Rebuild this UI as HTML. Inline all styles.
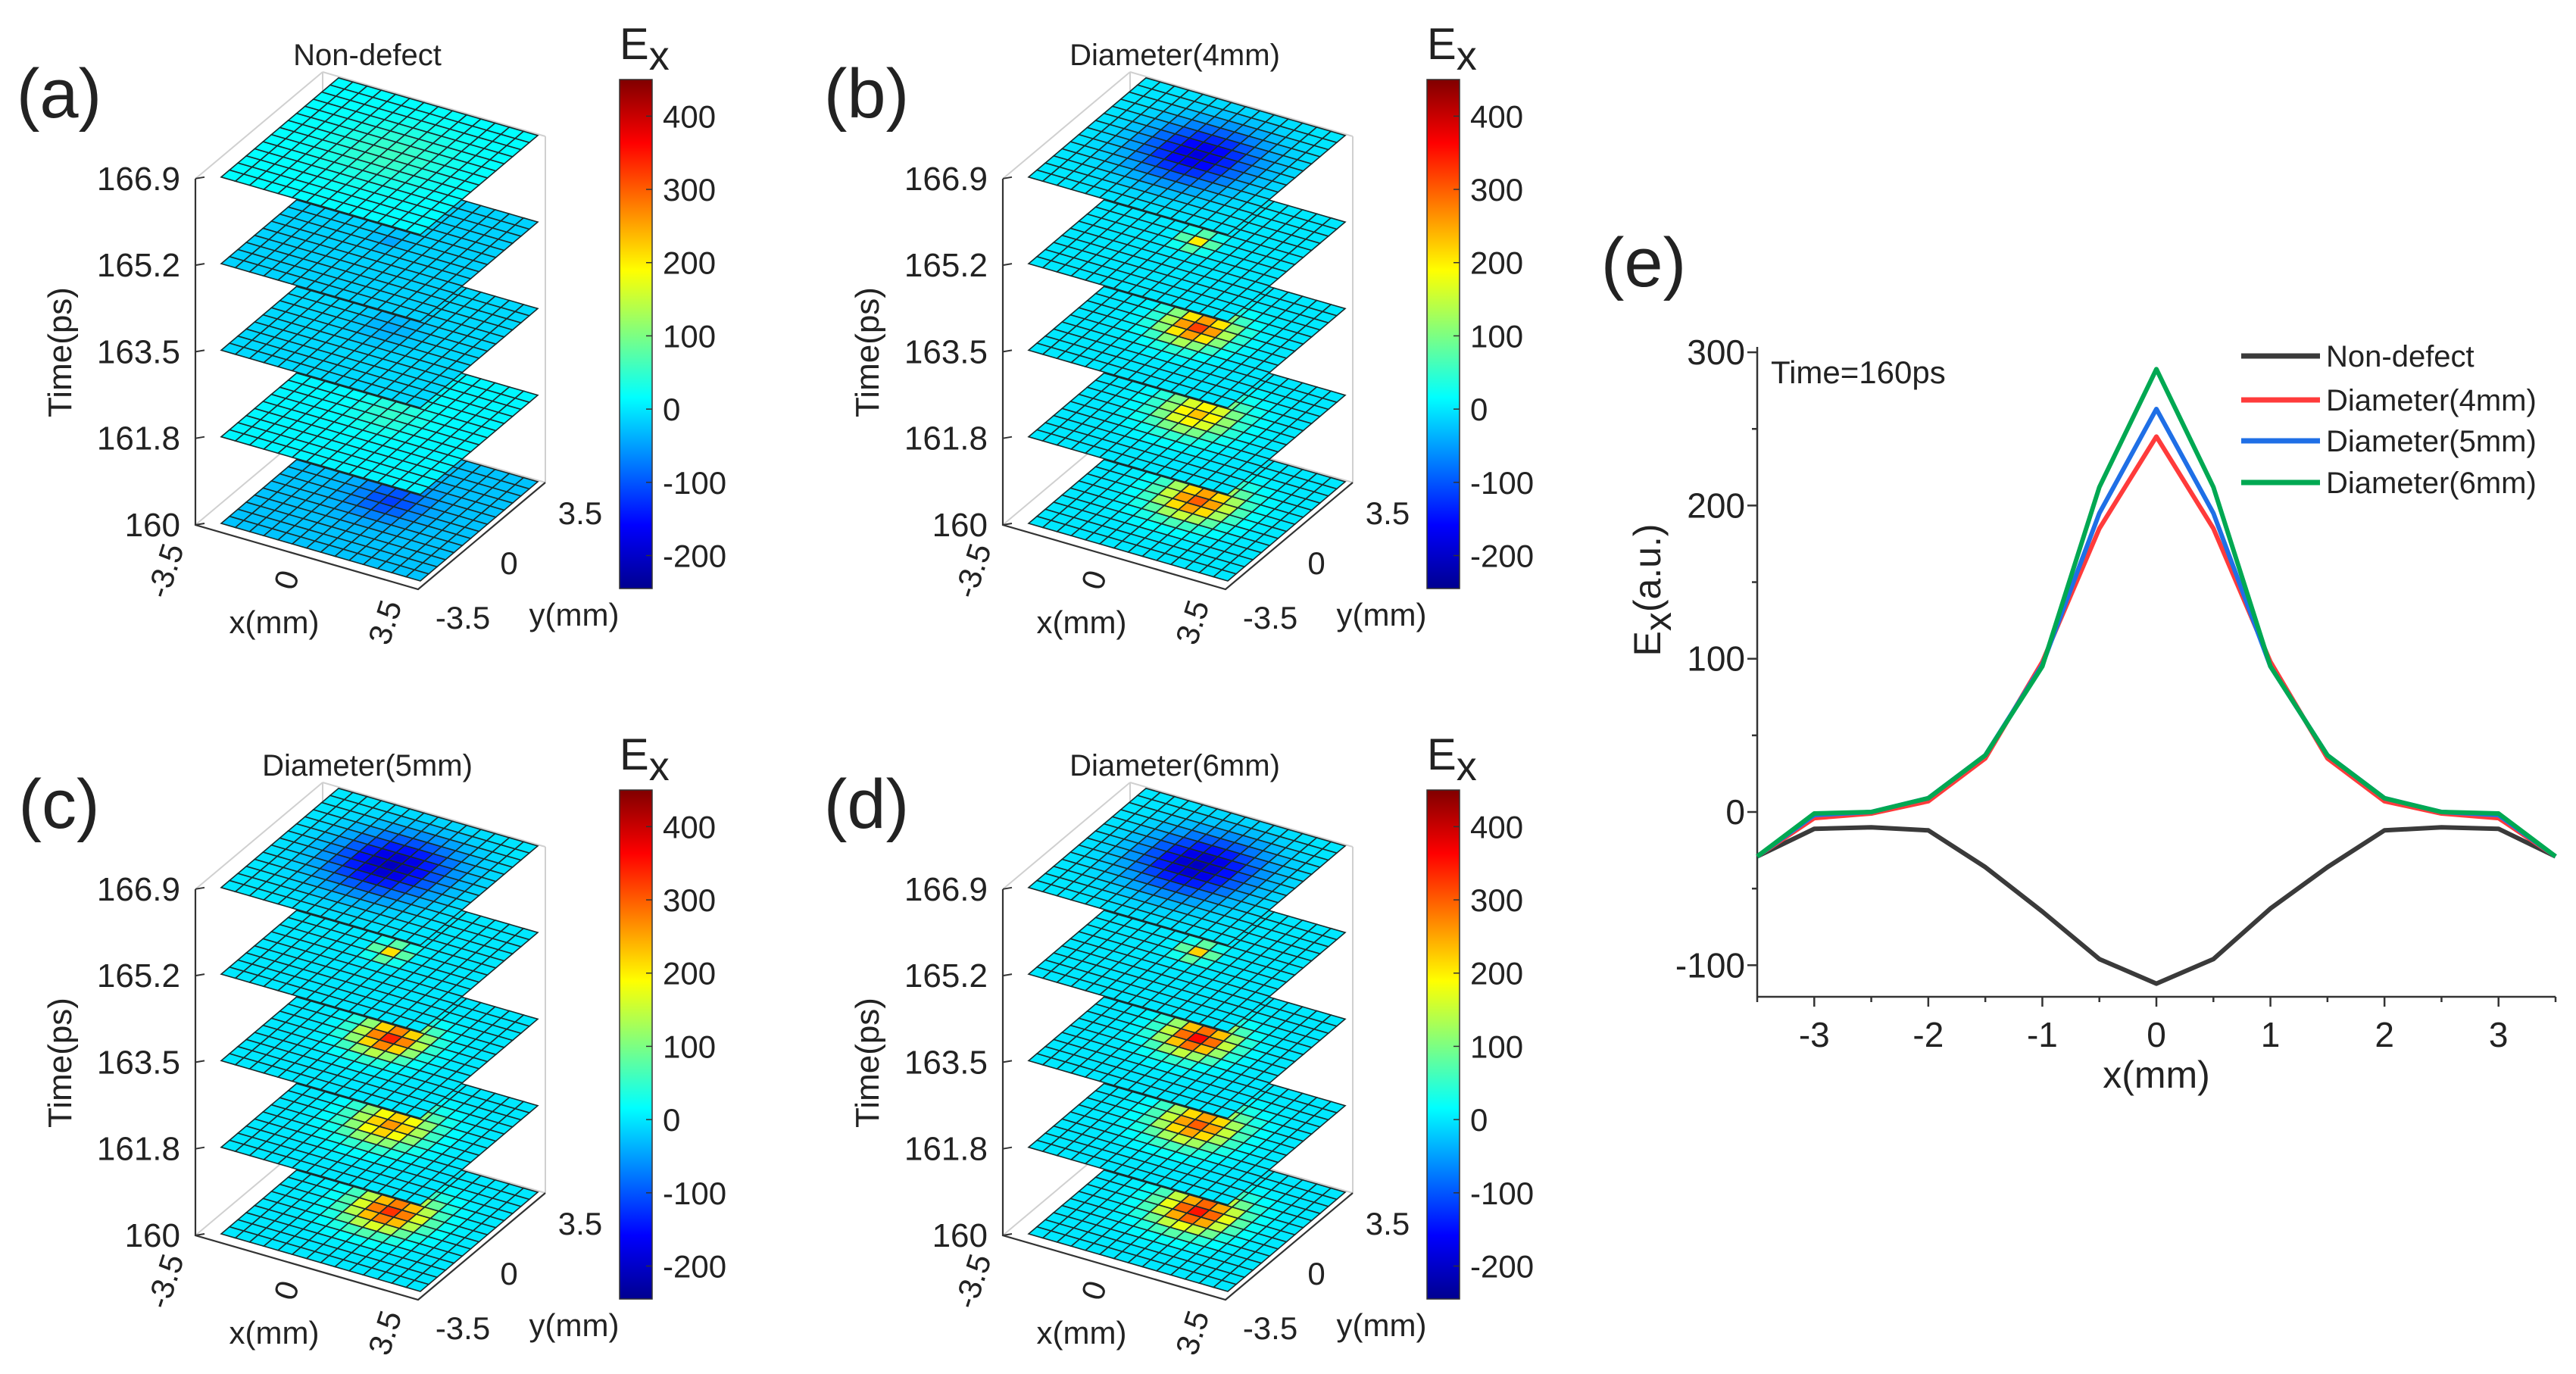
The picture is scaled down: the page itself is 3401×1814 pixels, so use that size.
<!DOCTYPE html>
<html><head><meta charset="utf-8"><style>
html,body{margin:0;padding:0;background:#fff}
svg{display:block}
text{font-family:"Liberation Sans",sans-serif;fill:#222}
</style></head><body>
<svg id="fig" width="3401" height="1814" viewBox="0 0 3401 1814" xmlns="http://www.w3.org/2000/svg">
<defs>
<linearGradient id="jet" x1="0" y1="1" x2="0" y2="0">
<stop offset="0" stop-color="#00008f"/><stop offset="0.125" stop-color="#0000ff"/><stop offset="0.375" stop-color="#00ffff"/><stop offset="0.625" stop-color="#ffff00"/><stop offset="0.875" stop-color="#ff0000"/><stop offset="1" stop-color="#800000"/>
</linearGradient>
</defs>
<g id="panels3d"></g>
<g id="panelE"></g>
</svg>
<script>
// ---- 3D slice panels data ----
const panelLetters = ["(a)","(b)","(c)","(d)"];
const panelTitles = ["Non-defect","Diameter(4mm)","Diameter(5mm)","Diameter(6mm)"];
const timeTicks = ["160","161.8","163.5","165.2","166.9"];
// peak value at slice centre, per slice (bottom 160 → top 166.9)
const peaksA = [-90, 40, -30, -30, 40];
const peaksB = [300, 230, 320, 200, -180];
const peaksC = [330, 260, 340, 210, -200];
const peaksD = [350, 300, 360, 220, -200];
const basesA = [-25, 10, -10, -15, 15];
const sliceWidths = [1.7, 1.7, 1.5, 0.7, 2.6];
const cbTicks = [400, 300, 200, 100, 0, -100, -200];
const cbMin = -245, cbMax = 450;

// ---- panel (e) data ----
const xVals = [-3.5,-3,-2.5,-2,-1.5,-1,-0.5,0,0.5,1,1.5,2,2.5,3,3.5];
const nonDefect = [-29,-11,-10,-12,-36,-65,-96,-112,-96,-63,-36,-12,-10,-11,-29];
const dia4 = [-29,-4,-1,7,35,98,185,245,185,98,35,7,-1,-4,-29];
const dia5 = [-29,-2,0,9,37,96,195,263,195,95,37,9,0,-2,-29];
const dia6 = [-29,-1,0,9,37,95,212,289,212,95,37,9,0,-1,-29];
const seriesNames = ["Non-defect","Diameter(4mm)","Diameter(5mm)","Diameter(6mm)"];
const yTicksE = [-100, 0, 100, 200, 300];
const xTicksE = [-3,-2,-1,0,1,2,3];

const NS = "http://www.w3.org/2000/svg";
function mk(tag, attrs, parent, txt){const e=document.createElementNS(NS,tag);for(const k in attrs)e.setAttribute(k,attrs[k]);if(txt!==undefined)e.textContent=txt;parent.appendChild(e);return e;}
function clamp(v){return Math.max(0,Math.min(1,v));}
function jet(v){const t=clamp((v-cbMin)/(cbMax-cbMin));
 const r=clamp(1.5-Math.abs(4*t-3)),g=clamp(1.5-Math.abs(4*t-2)),b=clamp(1.5-Math.abs(4*t-1));
 return `rgb(${Math.round(r*255)},${Math.round(g*255)},${Math.round(b*255)})`;}

const allPeaks=[peaksA,peaksB,peaksC,peaksD];
const offsets=[[0,0],[1066,0],[0,938],[1066,938]];
const root=document.getElementById('panels3d');
const N=14, ex=[263/N,76/N], ey=[155/N,-131/N], dz=114.3;

allPeaks.forEach((peaks,p)=>{
 const [ox,oy]=offsets[p];
 const g=mk('g',{transform:`translate(${ox},${oy})`},root);
 
 
 const grey={stroke:'#d0d0d0','stroke-width':2,fill:'none'};
 mk('path',Object.assign({d:'M426,552 L426,95 M720,637 L720,180 M426,95 L720,180 M426,95 L258,236 M258,693 L426,552 L720,637'},grey),g);
 const bases = p===0?basesA:[0,0,0,0,0];
 for(let k=0;k<5;k++){
  const sg=mk('g',{},g);
  
  
  const L=[292,691-k*dz];
  const c=7, w=sliceWidths[k];
  for(let i=0;i<N;i++)for(let j=0;j<N;j++){
   const d2=((i-c)*(i-c)+(j-c)*(j-c))/(2*w*w);
   const v=bases[k]+peaks[k]*Math.exp(-d2);
   const P=(a,b)=>[L[0]+a*ex[0]+b*ey[0],L[1]+a*ex[1]+b*ey[1]];
   const q=[P(i,j),P(i+1,j),P(i+1,j+1),P(i,j+1)];
   mk('polygon',{points:q.map(s=>s.join(',')).join(' '),fill:jet(v),stroke:'#1a2a2a','stroke-width':1.6},sg);
  }
 }
 const ax={stroke:'#333','stroke-width':2.2,fill:'none'};
 mk('path',Object.assign({d:'M258,236 L258,693 L552,778 L720,637'},ax),g);
 timeTicks.forEach((t,k)=>{
  const y=693-k*dz;
  mk('line',{x1:258,y1:y,x2:270,y2:y-2,stroke:'#333','stroke-width':2},g);
  const tt=mk('text',{x:238,y:y+15,'text-anchor':'end','font-size':44},g,t);
  
  
 });
 mk('text',{x:0,y:0,'font-size':44,'text-anchor':'middle',transform:'translate(94,465) rotate(-90)'},g,'Time(ps)');
 [['-3.5',232,758],['0',392,770],['3.5',522,826]].forEach(([s,x,y])=>{
  const t=mk('text',{x:0,y:0,'font-size':42,'text-anchor':'middle',transform:`translate(${x},${y}) rotate(-72)`},g,s);
  
 });
 mk('text',{x:362,y:836,'font-size':42,'text-anchor':'middle'},g,'x(mm)');
 [['3.5',766,692],['0',672,758],['-3.5',611,830]].forEach(([s,x,y])=>{
  const t=mk('text',{x,y,'font-size':42,'text-anchor':'middle'},g,s);
  
 });
 mk('text',{x:758,y:826,'font-size':42,'text-anchor':'middle'},g,'y(mm)');
 const ti=mk('text',{x:485,y:86,'font-size':40,'text-anchor':'middle'},g,panelTitles[p]);
 
 const pl=mk('text',{x:78,y:155,'font-size':92,'text-anchor':'middle'},g,panelLetters[p]);
 
 mk('rect',{x:818,y:105,width:43,height:672,fill:'url(#jet)',stroke:'#333','stroke-width':1.5},g);
 const cy=v=>777-(v-cbMin)/(cbMax-cbMin)*672;
 cbTicks.forEach(v=>{
  mk('line',{x1:861,y1:cy(v),x2:853,y2:cy(v),stroke:'#333','stroke-width':1.5},g);
  const t=mk('text',{x:875,y:cy(v)+15,'font-size':42},g,String(v));
  
 });
 const el=mk('text',{x:818,y:78,'font-size':58},g);
 
 el.innerHTML='E<tspan font-size="54" dy="14">x</tspan>';
});

// ---- panel e ----
const ge=document.getElementById('panelE');
const X0=2320,X1=3374,Y0=1316;
const xs=v=>X0+(v+3.5)/7*(X1-X0);
const ys=v=>1072-v*2.023;
mk('line',{x1:X0,y1:458,x2:X0,y2:Y0,stroke:'#333','stroke-width':2.5},ge);
mk('line',{x1:X0,y1:Y0,x2:X1,y2:Y0,stroke:'#333','stroke-width':2.5},ge);
for(let v=-100;v<=300;v+=50){const maj=v%100===0;mk('line',{x1:X0,y1:ys(v),x2:X0-(maj?13:7),y2:ys(v),stroke:'#333','stroke-width':2.5},ge);}
yTicksE.forEach(v=>{const t=mk('text',{x:X0-16,y:ys(v)+16,'font-size':46,'text-anchor':'end'},ge,String(v));
 });
for(let v=-3.5;v<=3.5;v+=0.5){const maj=Math.abs(v%1)<1e-9;mk('line',{x1:xs(v),y1:Y0,x2:xs(v),y2:Y0+(maj?13:7),stroke:'#333','stroke-width':2.5},ge);}
xTicksE.forEach(v=>{const t=mk('text',{x:xs(v),y:1382,'font-size':46,'text-anchor':'middle'},ge,String(v));
 });
mk('text',{x:xs(0),y:1436,'font-size':50,'text-anchor':'middle'},ge,'x(mm)');
const yt=mk('text',{x:0,y:0,'font-size':50,'text-anchor':'middle',transform:'translate(2192,779) rotate(-90)'},ge);

yt.innerHTML='E<tspan font-size="50" dy="14">x</tspan><tspan dy="-14">(a.u.)</tspan>';
mk('text',{x:2338,y:506,'font-size':42},ge,'Time=160ps');
const elab=mk('text',{x:2170,y:378,'font-size':92,'text-anchor':'middle'},ge,'(e)');

const colors=['#3a3a3a','#ff3b3b','#1f6fe6','#00a852'];
[nonDefect,dia4,dia5,dia6].forEach((s,k)=>{
 const pl=mk('polyline',{points:s.map((v,i)=>xs(xVals[i])+','+ys(v)).join(' '),fill:'none',stroke:colors[k],'stroke-width':6,'stroke-linejoin':'round'},ge);
 
 const ly=[470,528,582,637][k];
 const ll=mk('line',{x1:2959,y1:ly,x2:3063,y2:ly,stroke:colors[k],'stroke-width':7},ge);
 
 const lt=mk('text',{x:3071,y:ly+14,'font-size':40},ge,seriesNames[k]);
 
});
</script>
</body></html>
